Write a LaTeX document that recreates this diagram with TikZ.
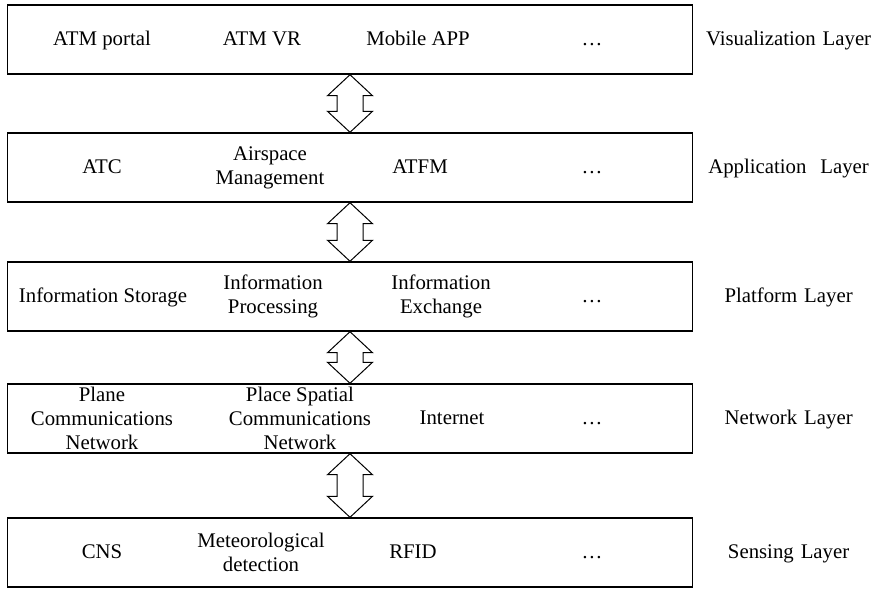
\documentclass[tikz,border=0pt]{standalone}
\usepackage{fontspec}
\setmainfont{Liberation Serif}
\usetikzlibrary{positioning,calc}

\tikzset{
  layer/.style = {draw, line width=0.7pt, minimum width=342.5pt, minimum height=34.5pt, inner sep=0pt},
  item/.style = {align=center, inner sep=0pt, font=\fontsize{10.4}{12}\selectfont},
  oneline/.style = {item, text height=1.55ex, text depth=0.3ex},
  layerlabel/.style = {text width=95pt, align=center, inner sep=0pt, text height=1.55ex, text depth=0.3ex, font=\fontsize{10.4}{12}\selectfont},
}
% hollow double arrow between two stacked layers
\newcommand{\layeredge}[2]{%
  \draw[line width=0.5pt, fill=white] (#1.south) -- ++(22.5,21) -- ++(-9.5,0)
    -- ($(#2.north)+(13,-21)$) -- ++(9.5,0) -- (#2.north) -- ++(-22.5,-21)
    -- ++(9.5,0) -- ($(#1.south)+(-13,21)$) -- ++(-9.5,0) -- cycle;}

\begin{document}
\begin{tikzpicture}[x=0.5pt, y=-0.5pt]
        \useasboundingbox (0,0) rectangle (878,589);
        %
        \node[layer] (vis) at (350,39.5) {} ;
        \node[layer, below = 28.8pt of vis] (app) {} ;
        \node[layer, below = 29.3pt of app] (plat) {} ;
        \node[layer, below = 25.8pt of plat] (net) {} ;
        \node[layer, below = 31.8pt of net] (sens) {} ;
        %
        \node[layerlabel, right = 0pt of vis] (vis_label) {Visualization Layer} ;
        \node[layerlabel, right = 0pt of app] (app_label) {Application~~Layer} ;
        \node[layerlabel, right = 0pt of plat] (plat_label) {Platform Layer} ;
        \node[layerlabel, right = 0pt of net] (net_label) {Network Layer} ;
        \node[layerlabel, right = 0pt of sens] (sens_label) {Sensing Layer} ;
        %
        \node[oneline] (vis_portal) at ([xshift=-124pt]vis.center) {ATM portal} ; %
        \node[oneline] (vis_vr) at ([xshift=-44pt]vis.center) {ATM VR} ; %
        \node[oneline] (vis_app) at ([xshift=34pt]vis.center) {Mobile APP} ; %
        \node[oneline] (vis_more) at ([xshift=121pt]vis.center) {\dots} ; %
        %
        \node[oneline] (app_atc) at ([xshift=-124pt]app.center) {ATC} ; %
        \node[item] (app_asm) at ([xshift=-40pt]app.center) {Airspace\\Management} ; %
        \node[oneline] (app_atfm) at ([xshift=35pt]app.center) {ATFM} ; %
        \node[oneline] (app_more) at ([xshift=121pt]app.center) {\dots} ; %
        %
        \node[oneline] (plat_store) at ([xshift=-123.5pt]plat.center) {Information Storage} ; %
        \node[item] (plat_proc) at ([xshift=-38.5pt]plat.center) {Information\\Processing} ; %
        \node[item] (plat_exch) at ([xshift=45.5pt]plat.center) {Information\\Exchange} ; %
        \node[oneline] (plat_more) at ([xshift=121pt]plat.center) {\dots} ; %
        %
        \node[item] (net_plane) at ([xshift=-124pt]net.center) {Plane\\Communications\\Network} ; %
        \node[item] (net_space) at ([xshift=-25pt]net.center) {Place Spatial\\Communications\\Network} ; %
        \node[oneline] (net_inet) at ([xshift=51pt]net.center) {Internet} ; %
        \node[oneline] (net_more) at ([xshift=121pt]net.center) {\dots} ; %
        %
        \node[oneline] (sens_cns) at ([xshift=-124pt]sens.center) {CNS} ; %
        \node[item] (sens_met) at ([xshift=-44.5pt]sens.center) {Meteorological\\detection} ; %
        \node[oneline] (sens_rfid) at ([xshift=31.5pt]sens.center) {RFID} ; %
        \node[oneline] (sens_more) at ([xshift=121pt]sens.center) {\dots} ; %
        %
        \layeredge {vis} {app} ; %
        \layeredge {app} {plat} ; %
        \layeredge {plat} {net} ; %
        \layeredge {net} {sens} ; %
\end{tikzpicture}
\end{document}
